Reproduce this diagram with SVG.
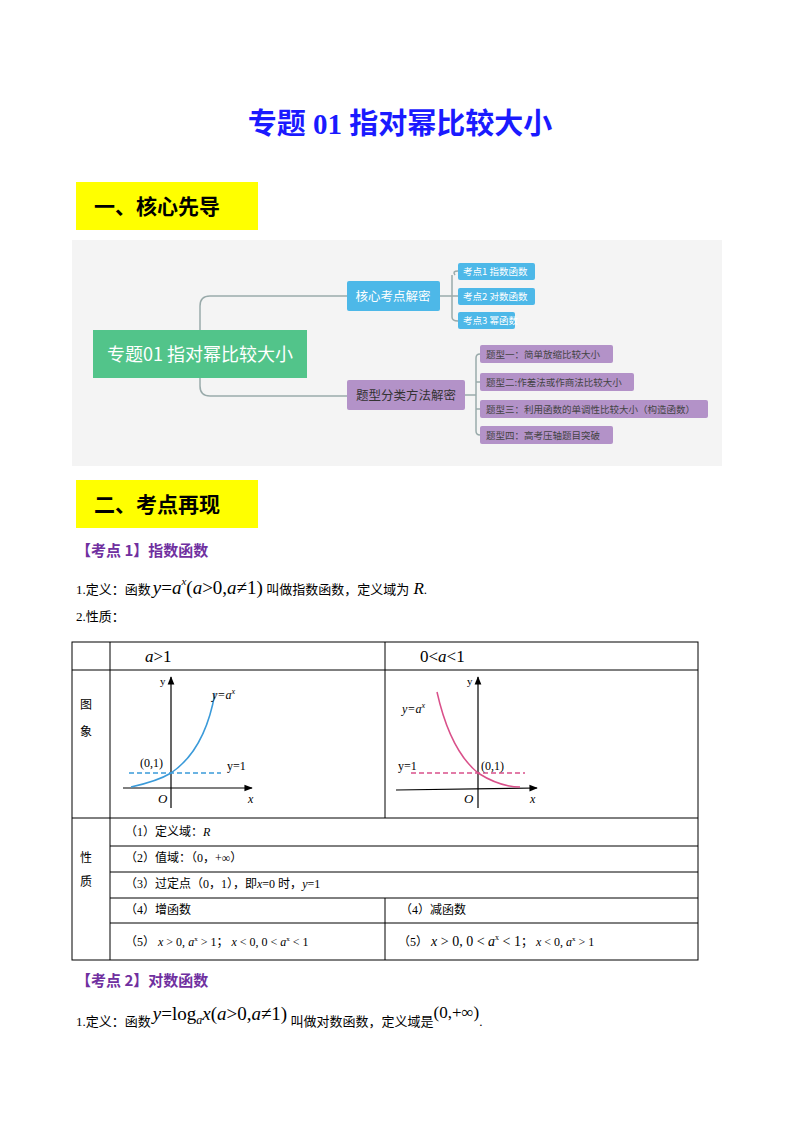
<svg xmlns="http://www.w3.org/2000/svg" width="800" height="1132" viewBox="0 0 800 1132">
<style>
.t{font-family:"Liberation Serif","Noto Sans CJK SC",serif;fill:#000}
.s{font-family:"Noto Sans CJK SC",sans-serif}
.m{font-family:"Liberation Serif",serif;font-style:italic}
.yb{fill:#ffff00}
.h{font-family:"Noto Sans CJK SC",sans-serif;font-weight:bold;font-size:21px;fill:#000}
.kp{font-family:"Noto Sans CJK SC",sans-serif;font-weight:bold;font-size:15px;fill:#7030a0}
.c{fill:none;stroke:#9aa;stroke-width:1.5}
.bl{fill:#4db8e8}
.pu{fill:#b392c8}
.wt{font-family:"Noto Sans CJK SC",sans-serif;fill:#fff}
.pt{font-family:"Noto Sans CJK SC",sans-serif;fill:#444;font-size:9.5px}
.tb{fill:none;stroke:#000;stroke-width:1}
.ax{stroke:#000;stroke-width:1.2;fill:none}
</style>
<defs><marker id="ar" viewBox="0 0 10 10" refX="9" refY="5" markerWidth="7" markerHeight="7" orient="auto"><path d="M0,1 L10,5 L0,9 Z" fill="#000"/></marker></defs>
<rect width="800" height="1132" fill="#fff"/>
<text x="400" y="134" text-anchor="middle" font-family="'Liberation Serif','Noto Sans CJK SC',serif" font-weight="bold" font-size="29" fill="#1a1aff">专题 01  指对幂比较大小</text>
<rect class="yb" x="76" y="182" width="182" height="48"/>
<text class="h" x="94" y="214">一、核心先导</text>
<rect x="72" y="240" width="650" height="226" fill="#f4f4f4"/>
<g id="connectors">
<path class="c" d="M200,330 V306 Q200,296 210,296 H347"/>
<path class="c" d="M200,378 V386 Q200,396 210,396 H347"/>
<path class="c" d="M440,296 H452 M455,275 Q452,271 458,271 M452,275 V317 Q452,321 458,321 M452,296 H458"/>
<path class="c" d="M465,395 H476 M476,358 Q476,354 480,354 M476,358 V431 Q476,435 480,435 M476,382 H480 M476,409 H480"/>
</g>
<g id="root"><rect x="93" y="330" width="214" height="48" fill="#52c48a"/><text class="wt" x="200" y="361" text-anchor="middle" font-size="18">专题01 指对幂比较大小</text></g>
<g id="n1"><rect class="bl" x="347" y="281" width="93" height="30" rx="2"/><text class="wt" x="393" y="301" text-anchor="middle" font-size="12.5">核心考点解密</text></g>
<g id="n1a"><rect class="bl" x="458" y="263" width="77" height="17" rx="2"/><text class="wt" x="463" y="275" font-size="9.5">考点1 指数函数</text></g>
<g id="n1b"><rect class="bl" x="458" y="288" width="77" height="17" rx="2"/><text class="wt" x="463" y="300" font-size="9.5">考点2 对数函数</text></g>
<g id="n1c"><rect class="bl" x="458" y="312" width="57" height="17" rx="2"/><text class="wt" x="463" y="324" font-size="9.5">考点3 幂函数</text></g>
<g id="n2"><rect class="pu" x="347" y="380" width="118" height="30" rx="2"/><text x="406" y="400" text-anchor="middle" font-size="12.5" class="s" fill="#333">题型分类方法解密</text></g>
<g id="n2a"><rect class="pu" x="480" y="345" width="133" height="18" rx="2"/><text class="pt" x="486" y="358">题型一：简单放缩比较大小</text></g>
<g id="n2b"><rect class="pu" x="480" y="373" width="154" height="18" rx="2"/><text class="pt" x="486" y="386">题型二:作差法或作商法比较大小</text></g>
<g id="n2c"><rect class="pu" x="480" y="400" width="228" height="18" rx="2"/><text class="pt" x="486" y="413">题型三：利用函数的单调性比较大小（构造函数）</text></g>
<g id="n2d"><rect class="pu" x="480" y="426" width="133" height="18" rx="2"/><text class="pt" x="486" y="439">题型四：高考压轴题目突破</text></g>
<rect class="yb" x="76" y="480" width="182" height="48"/>
<text class="h" x="94" y="512">二、考点再现</text>
<text class="kp" x="76" y="556">【考点 1】指数函数</text>
<text class="t" x="76" y="594" font-size="13">1.定义：函数<tspan class="m" font-size="19" dx="2">y</tspan><tspan font-size="19">=</tspan><tspan class="m" font-size="19">a</tspan><tspan class="m" font-size="11" dy="-9">x</tspan><tspan font-size="19" dy="9">(</tspan><tspan class="m" font-size="19">a</tspan><tspan font-size="19">&gt;0,</tspan><tspan class="m" font-size="19">a</tspan><tspan font-size="19">≠1)</tspan> 叫做指数函数，定义域为<tspan class="m" font-size="17"> R</tspan>.</text>
<text class="t" x="76" y="621" font-size="13">2.性质：</text>
<g id="table">
<rect class="tb" x="72" y="642" width="626" height="318"/>
<path class="tb" d="M110,642 V960 M385,642 V818 M385,898 V960 M72,670 H698 M72,818 H698 M110,846 H698 M110,872 H698 M110,898 H698 M110,923 H698"/>
</g>
<text class="t" x="145" y="662" font-size="17"><tspan class="m">a</tspan>&gt;1</text>
<text class="t" x="420" y="662" font-size="17">0&lt;<tspan class="m">a</tspan>&lt;1</text>
<text class="t" x="80" y="709" font-size="12">图</text><text class="t" x="80" y="736" font-size="12">象</text>
<text class="t" x="80" y="862" font-size="12">性</text><text class="t" x="80" y="886" font-size="12">质</text>
<g id="g1">
<line class="ax" x1="171" y1="808" x2="171" y2="677" marker-end="url(#ar)"/>
<line class="ax" x1="123" y1="788" x2="252" y2="788" marker-end="url(#ar)"/>
<path d="M131,787 Q158,781 171,773 Q205,750 215,693" fill="none" stroke="#3a9ad9" stroke-width="1.5"/>
<line x1="129" y1="773" x2="221" y2="773" stroke="#3a9ad9" stroke-width="1.3" stroke-dasharray="5,3"/>
<text class="t" x="140" y="767" font-size="12">(0,1)</text>
<text class="t" x="227" y="770" font-size="12">y=1</text>
<text class="t m" x="158" y="803" font-size="13">O</text>
<text class="t m" x="248" y="803" font-size="12">x</text>
<text class="t" x="160" y="685" font-size="11">y</text>
<text class="t m" x="212" y="699" font-size="12">y=a<tspan font-size="8" dy="-5">x</tspan></text>
</g>
<g id="g2">
<line class="ax" x1="478" y1="808" x2="478" y2="677" marker-end="url(#ar)"/>
<line class="ax" x1="396" y1="790" x2="537" y2="788" marker-end="url(#ar)"/>
<path d="M437,692 Q450,750 478,773 Q500,787 520,787" fill="none" stroke="#d9508a" stroke-width="1.5"/>
<line x1="411" y1="773" x2="525" y2="773" stroke="#d9508a" stroke-width="1.3" stroke-dasharray="5,3"/>
<text class="t" x="398" y="770" font-size="12">y=1</text>
<text class="t" x="481" y="770" font-size="12">(0,1)</text>
<text class="t m" x="464" y="803" font-size="13">O</text>
<text class="t m" x="530" y="803" font-size="12">x</text>
<text class="t" x="467" y="685" font-size="11">y</text>
<text class="t m" x="402" y="713" font-size="12">y=a<tspan font-size="8" dy="-5">x</tspan></text>
</g>
<text class="t" x="125" y="836" font-size="12">（1）定义域：<tspan class="m">R</tspan></text>
<text class="t" x="125" y="862" font-size="12">（2）值域：（0，+∞）</text>
<text class="t" x="125" y="888" font-size="12">（3）过定点（0，1），即<tspan class="m">x</tspan>=0 时，<tspan class="m">y</tspan>=1</text>
<text class="t" x="125" y="914" font-size="12">（4）增函数</text>
<text class="t" x="400" y="914" font-size="12">（4）减函数</text>
<text class="t" x="125" y="946" font-size="12">（5） <tspan class="m">x</tspan> &gt; 0, <tspan class="m">a</tspan><tspan font-size="7" dy="-5">x</tspan><tspan dy="5"> &gt; 1</tspan>；      <tspan class="m">x</tspan> &lt; 0, 0 &lt; <tspan class="m">a</tspan><tspan font-size="7" dy="-5">x</tspan><tspan dy="5"> &lt; 1</tspan></text>
<text class="t" x="398" y="946" font-size="12">（5） <tspan font-size="14"><tspan class="m">x</tspan> &gt; 0, 0 &lt; <tspan class="m">a</tspan><tspan font-size="8" dy="-6">x</tspan><tspan dy="6"> &lt; 1</tspan></tspan>；    <tspan class="m">x</tspan> &lt; 0, <tspan class="m">a</tspan><tspan font-size="7" dy="-5">x</tspan><tspan dy="5"> &gt; 1</tspan></text>
<text class="kp" x="76" y="986">【考点 2】对数函数</text>
<text class="t" x="76" y="1026" font-size="13">1.定义：函数<tspan class="m" font-size="19" dx="2" dy="-6">y</tspan><tspan font-size="19">=log</tspan><tspan class="m" font-size="12" dy="4">a</tspan><tspan class="m" font-size="19" dy="-4">x</tspan><tspan font-size="19">(</tspan><tspan class="m" font-size="19">a</tspan><tspan font-size="19">&gt;0,</tspan><tspan class="m" font-size="19">a</tspan><tspan font-size="19">≠1)</tspan><tspan dy="6"> 叫做对数函数，定义域是</tspan><tspan font-size="17" dy="-8">(0,+∞)</tspan><tspan dy="8">.</tspan></text>
</svg>
